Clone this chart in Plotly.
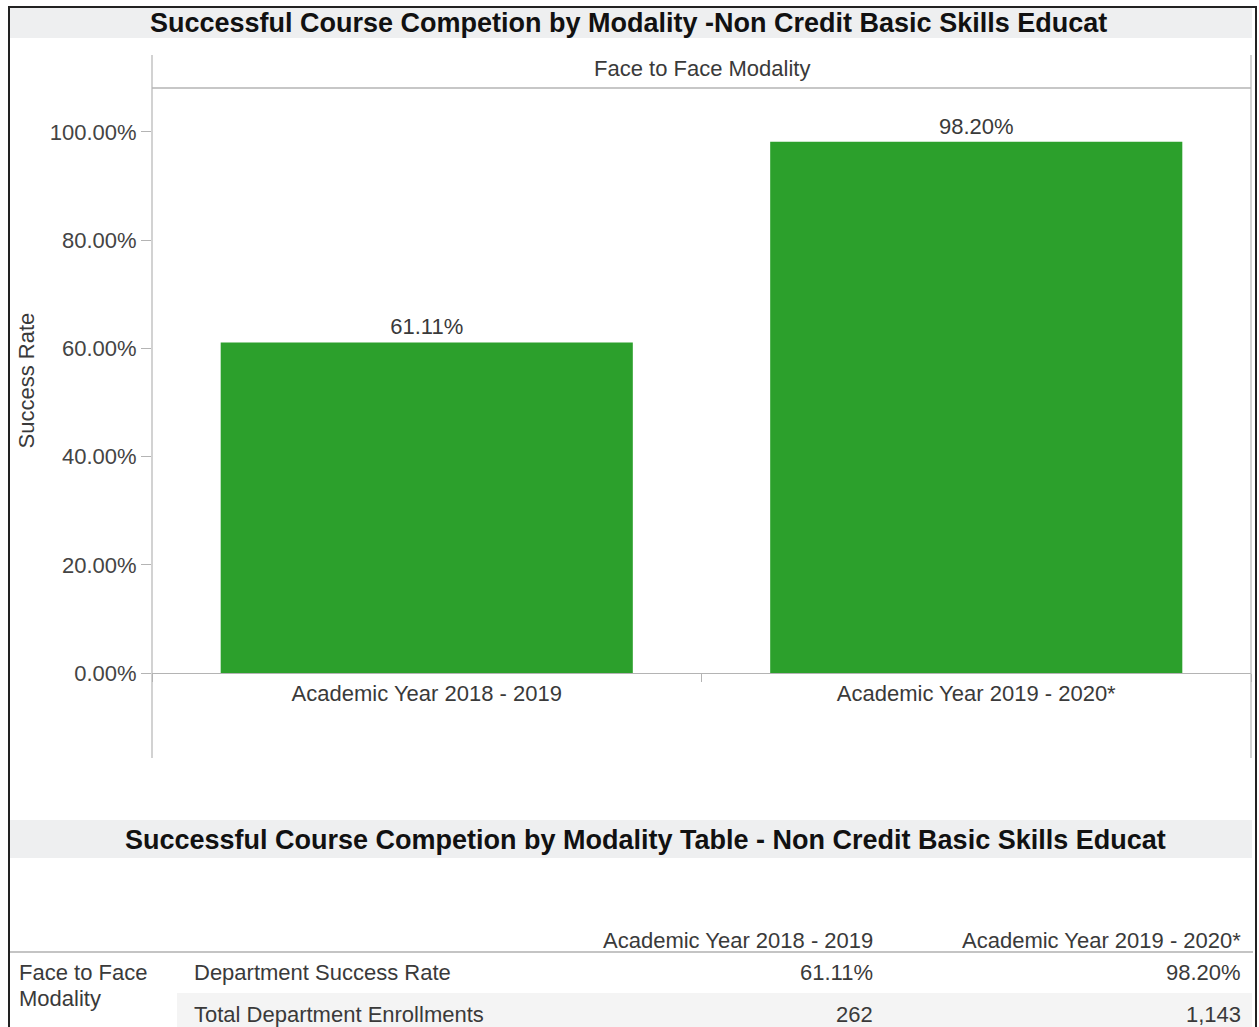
import plotly.graph_objects as go

# ---- data ----
categories = ["Academic Year 2018 - 2019", "Academic Year 2019 - 2020*"]
success_rate = [0.6111, 0.9820]
enrollments = [262, 1143]
facet_label = "Face to Face Modality"
row_group = ["Face to Face", "Modality"]
metric_names = ["Department Success Rate", "Total Department Enrollments"]
y_ticks = [0, 0.2, 0.4, 0.6, 0.8, 1.0]
title_chart = "Successful Course Competion by Modality -Non Credit Basic Skills Educat"
title_table = "Successful Course Competion by Modality Table - Non Credit Basic Skills Educat"

# ---- page geometry (pixels) ----
W, H = 1259, 1027
L, R, T, B = 152, 1251, 88, 673


def fx(px):
    return (px - L) / (R - L)


def fy(py):
    return (B - py) / (B - T)


FONT = "Liberation Sans, Arial, sans-serif"
AX = "#b4b4b4"
TXT = "#3a3a3a"
FS = 22

fig = go.Figure(
    go.Bar(
        x=categories,
        y=success_rate,
        marker=dict(color="#2ca02c", line=dict(width=0)),
        width=0.75,
        texttemplate="%{y:.2%}",
        textposition="outside",
        textfont=dict(size=FS, color=TXT, family=FONT),
        constraintext="none",
        cliponaxis=False,
        hoverinfo="skip",
    )
)

shapes = []
# outer frame
shapes.append(dict(type="path", xref="paper", yref="paper",
                   path=f"M {fx(9)},{fy(1040)} L {fx(9)},{fy(7)} L {fx(1256)},{fy(7)} L {fx(1256)},{fy(1040)}",
                   line=dict(color="#222222", width=2)))
# title bars
for y0, y1 in [(8, 38), (820, 858)]:
    shapes.append(dict(type="rect", xref="paper", yref="paper", layer="below",
                       x0=fx(10), x1=fx(1252), y0=fy(y0), y1=fy(y1),
                       fillcolor="#eeeff0", line=dict(width=0)))
# panel frame lines
shapes.append(dict(type="line", xref="paper", yref="paper", x0=0, x1=0, y0=fy(758), y1=fy(55),
                   line=dict(color=AX, width=1.2)))
shapes.append(dict(type="line", xref="paper", yref="paper", x0=1, x1=1, y0=fy(758), y1=fy(55),
                   line=dict(color=AX, width=1.2)))
shapes.append(dict(type="line", xref="paper", yref="paper", x0=0, x1=1, y0=1, y1=1,
                   line=dict(color=AX, width=1.5)))
# table header line and banded row
shapes.append(dict(type="rect", xref="paper", yref="paper", layer="below",
                   x0=fx(177), x1=fx(1252), y0=fy(993), y1=fy(1035),
                   fillcolor="#f4f4f4", line=dict(width=0)))
shapes.append(dict(type="line", xref="paper", yref="paper", x0=fx(10), x1=fx(1253), y0=fy(952), y1=fy(952),
                   line=dict(color="#c4c4c4", width=2)))

ann = []
ann.append(dict(text=f"<b>{title_chart}</b>", x=fx(628), y=fy(23), xref="paper", yref="paper",
                showarrow=False, xanchor="center", yanchor="middle",
                font=dict(size=27, color="#111111", family=FONT)))
ann.append(dict(text=f"<b>{title_table}</b>", x=fx(645), y=fy(840), xref="paper", yref="paper",
                showarrow=False, xanchor="center", yanchor="middle",
                font=dict(size=27, color="#111111", family=FONT)))
ann.append(dict(text=facet_label, x=0.5, y=fy(69), xref="paper", yref="paper",
                showarrow=False, xanchor="center", yanchor="middle",
                font=dict(size=FS, color=TXT, family=FONT)))
ann.append(dict(text="Success Rate", x=fx(26), y=0.5, xref="paper", yref="paper",
                showarrow=False, xanchor="center", yanchor="middle", textangle=-90,
                font=dict(size=FS, color=TXT, family=FONT)))

# table
col_right = [875, 1243]
header_y = 940
row_y = [972, 1014]
group_y = [972, 998]
for c, cat in enumerate(categories):
    ann.append(dict(text=cat, x=fx(col_right[c]), y=fy(header_y), xref="paper", yref="paper",
                    showarrow=False, xanchor="right", yanchor="middle",
                    font=dict(size=FS, color=TXT, family=FONT)))
for i, g in enumerate(row_group):
    ann.append(dict(text=g, x=fx(17), y=fy(group_y[i]), xref="paper", yref="paper",
                    showarrow=False, xanchor="left", yanchor="middle",
                    font=dict(size=FS, color=TXT, family=FONT)))
rows = [[f"{v:.2%}" for v in success_rate], [f"{v:,}" for v in enrollments]]
for r_i, name in enumerate(metric_names):
    ann.append(dict(text=name, x=fx(192), y=fy(row_y[r_i]), xref="paper", yref="paper",
                    showarrow=False, xanchor="left", yanchor="middle",
                    font=dict(size=FS, color=TXT, family=FONT)))
    for c in range(len(categories)):
        ann.append(dict(text=rows[r_i][c], x=fx(col_right[c]), y=fy(row_y[r_i]), xref="paper", yref="paper",
                        showarrow=False, xanchor="right", yanchor="middle",
                        font=dict(size=FS, color=TXT, family=FONT)))

fig.update_layout(
    width=W, height=H,
    margin=dict(l=L, r=W - R, t=T, b=H - B, pad=0),
    paper_bgcolor="white", plot_bgcolor="white",
    showlegend=False,
    bargap=0.25,
    font=dict(family=FONT, size=FS, color=TXT),
    shapes=shapes,
    annotations=ann,
    xaxis=dict(
        range=[-0.5, 1.5], showline=True, linecolor=AX, linewidth=1.2,
        tickson="boundaries", ticks="outside", ticklen=8, tickcolor=AX, tickwidth=1,
        showgrid=False, zeroline=False,
        tickfont=dict(size=FS, color=TXT, family=FONT),
    ),
    yaxis=dict(
        range=[0, 1.0813], tickvals=y_ticks, tickformat=".2%",
        ticks="outside", ticklen=10, tickcolor=AX, tickwidth=1,
        showline=False, showgrid=False, zeroline=False,
        tickfont=dict(size=FS, color="#444444", family=FONT),
    ),
)

fig.write_html("out.html")
